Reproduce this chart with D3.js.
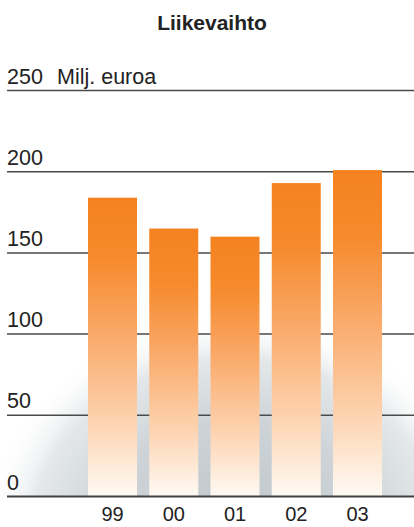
<!DOCTYPE html>
<html>
<head>
<meta charset="utf-8">
<script src="https://cdn.jsdelivr.net/npm/d3@7"></script>
<style>
  body { margin: 0; background: #fff; }
  svg { display: block; font-family: "Liberation Sans", Arial, sans-serif; }
</style>
</head>
<body>
<div class="chart"></div>
<script>
// Data
const years = ["99", "00", "01", "02", "03"];
const revenue = [184, 165, 160, 193, 201];
const yTicks = [0, 50, 100, 150, 200, 250];

const width = 414;
const height = 527;

const svg = d3
  .select(".chart")
  .append("svg")
  .attr("width", width)
  .attr("height", height);

const defs = svg.append("defs");

// Bar gradient (orange to almost white)
const barGrad = defs
  .append("linearGradient")
  .attr("id", "barGrad")
  .attr("x1", 0)
  .attr("y1", 0)
  .attr("x2", 0)
  .attr("y2", 1);
[
  [0, "#f5821f"],
  [0.2, "#f68a2c"],
  [0.42, "#f9a460"],
  [0.75, "#fdd3b0"],
  [1, "#fffaf5"],
].forEach(([o, c]) => barGrad.append("stop").attr("offset", o).attr("stop-color", c));

// Grey shadow behind bars
const bgGrad = defs
  .append("radialGradient")
  .attr("id", "bgGrad")
  .attr("cx", 0.5)
  .attr("cy", 0.5)
  .attr("r", 0.5);
[
  [0, "#bfc7cc", 1],
  [0.5, "#cdd3d7", 1],
  [0.8, "#e4e8ea", 1],
  [1, "#ffffff", 0],
].forEach(([o, c, a]) =>
  bgGrad.append("stop").attr("offset", o).attr("stop-color", c).attr("stop-opacity", a)
);

const x = d3.scaleBand().domain(years).range([88, 382]).paddingInner(0.2).paddingOuter(0);
const y = d3.scaleLinear().domain([0, 250]).range([496.5, 90.5]);

const left = 7;
const right = 414;

// background glow clipped above the baseline
defs
  .append("clipPath")
  .attr("id", "aboveBase")
  .append("rect")
  .attr("x", 0)
  .attr("y", 0)
  .attr("width", width)
  .attr("height", y(0));

svg
  .append("ellipse")
  .attr("clip-path", "url(#aboveBase)")
  .attr("cx", 235)
  .attr("cy", y(0) + 30)
  .attr("rx", 250)
  .attr("ry", 210)
  .attr("fill", "url(#bgGrad)");

// Gridlines
svg
  .append("g")
  .selectAll("line")
  .data(yTicks.filter((d) => d > 0))
  .join("line")
  .attr("x1", left)
  .attr("x2", right)
  .attr("y1", (d) => y(d))
  .attr("y2", (d) => y(d))
  .attr("stroke", "#4a4a4a")
  .attr("stroke-width", 1.5);

// Bars
svg
  .append("g")
  .selectAll("rect")
  .data(revenue)
  .join("rect")
  .attr("x", (d, i) => x(years[i]))
  .attr("y", (d) => y(d))
  .attr("width", x.bandwidth())
  .attr("height", (d) => y(0) - y(d))
  .attr("fill", "url(#barGrad)");

// Baseline
svg
  .append("line")
  .attr("x1", left)
  .attr("x2", right)
  .attr("y1", y(0))
  .attr("y2", y(0))
  .attr("stroke", "#404040")
  .attr("stroke-width", 2.2);

// Y tick labels
svg
  .append("g")
  .selectAll("text")
  .data(yTicks)
  .join("text")
  .attr("x", left)
  .attr("y", (d) => y(d) - 7)
  .attr("font-size", 21.5)
  .attr("fill", "#222")
  .text((d) => d);

svg
  .append("text")
  .attr("x", 57)
  .attr("y", y(250) - 7)
  .attr("font-size", 21.5)
  .attr("fill", "#222")
  .text("Milj. euroa");

// X labels
svg
  .append("g")
  .selectAll("text")
  .data(years)
  .join("text")
  .attr("x", (d) => x(d) + x.bandwidth() / 2)
  .attr("y", 521)
  .attr("text-anchor", "middle")
  .attr("font-size", 20)
  .attr("fill", "#222")
  .text((d) => d);

// Title
svg
  .append("text")
  .attr("x", 212)
  .attr("y", 30)
  .attr("text-anchor", "middle")
  .attr("font-size", 21)
  .attr("font-weight", "bold")
  .attr("fill", "#222")
  .text("Liikevaihto");
</script>
</body>
</html>
